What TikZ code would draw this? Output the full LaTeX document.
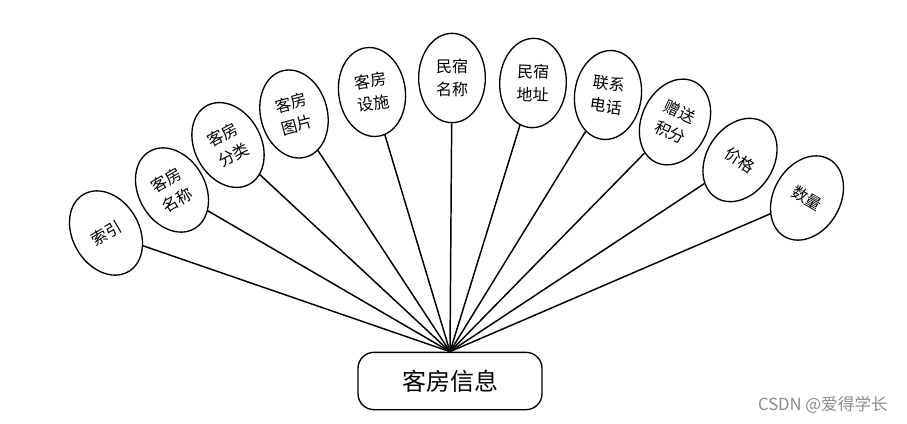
\documentclass[tikz,border=0pt]{standalone}
\usepackage{fontspec}
\usetikzlibrary{shapes.geometric}
\newfontfamily\cjk{Noto Sans CJK SC}
\begin{document}
\begin{tikzpicture}[x=0.75pt, y=-0.75pt,
  attr/.style={draw, ellipse, line width=1pt, minimum width=50pt,
    minimum height=67pt, inner sep=0pt, align=center,
    font=\cjk\fontsize{12}{17}\selectfont},
  link/.style={draw, line width=1.1pt}]
  \useasboundingbox (0,0) rectangle (907,424);
  \node[draw, rounded corners=12pt, line width=1pt, minimum width=138pt,
    minimum height=43pt, font=\cjk\fontsize{18}{20}\selectfont] (info) at (450,381) {客房信息};
  \coordinate (hub) at (info.north);
  \node[attr, rotate=30] (idx) at (106,233) {索引};
  \node[attr, rotate=30] (rname) at (172,190) {客房\\名称};
  \node[attr, rotate=28] (rcat) at (228,145) {客房\\分类};
  \node[attr, rotate=15] (rpic) at (294,114) {客房\\图片};
  \node[attr, rotate=8] (rfac) at (372,92) {客房\\设施};
  \node[attr] (hname) at (452,78) {民宿\\名称};
  \node[attr, rotate=-2] (haddr) at (533,83) {民宿\\地址};
  \node[attr, rotate=-8] (tel) at (608,95) {联系\\电话};
  \node[attr, rotate=-25] (pts) at (675,122) {赠送\\积分};
  \node[attr, rotate=-33] (price) at (740,160) {价格};
  \node[attr, rotate=-30] (qty) at (807,198) {数量};
  \draw[link] (hub) -- (idx);
  \draw[link] (hub) -- (rname);
  \draw[link] (hub) -- (rcat);
  \draw[link] (hub) -- (rpic);
  \draw[link] (hub) -- (rfac);
  \draw[link] (hub) -- (hname);
  \draw[link] (hub) -- (haddr);
  \draw[link] (hub) -- (tel);
  \draw[link] (hub) -- (pts);
  \draw[link] (hub) -- (price);
  \draw[link] (hub) -- (qty);
  % watermark
  \node[text=black!45, font=\cjk\fontsize{12.5}{14}\selectfont] (mark) at (823,405) {CSDN @爱得学长};
\end{tikzpicture}
\end{document}
